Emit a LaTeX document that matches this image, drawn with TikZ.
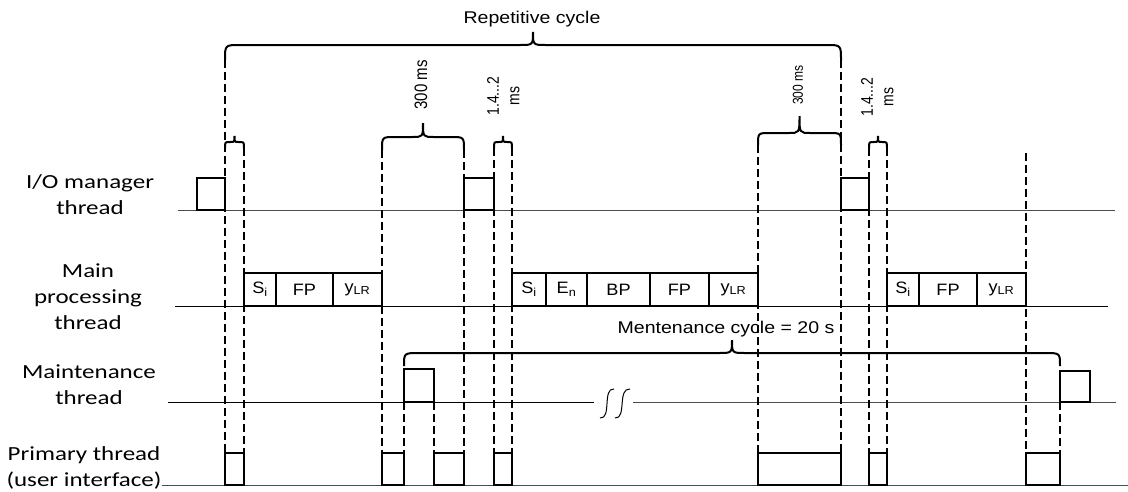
\documentclass[tikz,border=0pt]{standalone}
\usepackage{fontspec}
\setmainfont{Carlito}
\newfontfamily\arial{Liberation Sans}
\newcommand\hx[2][1.1]{\scalebox{#1}[1]{#2}}
\newcommand\vx[2][1.2]{\scalebox{1}[#1]{#2}}
\newcommand\stk[1]{\begin{tabular}{@{}c@{}}#1\end{tabular}}
\tikzset{
  thr/.style={line width=1pt, black!70},
  thrb/.style={line width=1pt, black},
  seg/.style={draw, line width=2pt, inner sep=0pt, outer sep=0pt, anchor=south west,
              font=\arial\fontsize{16.5}{18}\selectfont},
  dsh/.style={line width=2.1pt, dash pattern=on 8pt off 4pt},
  brc/.style={line width=2pt},
  lab/.style={font=\fontsize{20}{26}\selectfont, align=center, inner sep=0pt},
  alab/.style={font=\arial\fontsize{17}{20}\selectfont, inner sep=0pt},
  rlab/.style={rotate=90, inner sep=0pt, align=center},
}
% box node: name, x1, x2, ytop, ybottom, text
\newcommand\seg[6]{\node[seg, minimum width={(#3-#2)*1pt}, minimum height={(#5-#4)*1pt}] (#1) at (#2,#5) {#6};}
% curly brace: x1, x2, yend, yhoriz, ytip, corner r, mid r
\newcommand\curly[7]{%
  \draw[brc] (#1,#3) .. controls (#1,#4) .. (#1+#6,#4) -- ({(#1+#2)/2-#7},#4)
    .. controls ({(#1+#2)/2},#4) .. ({(#1+#2)/2},#5)
    .. controls ({(#1+#2)/2},#4) .. ({(#1+#2)/2+#7},#4) -- (#2-#6,#4)
    .. controls (#2,#4) .. (#2,#3);}
\begin{document}
\begin{tikzpicture}[x=1pt,y=-1pt]
\useasboundingbox (0,0) rectangle (1128,491);

% thread labels
\node[lab] (lio) at (90,196) {\hx[1.25]{\stk{I/O manager\\thread}}};
\node[lab] (lmain) at (88,298) {\hx[1.25]{\stk{Main\\processing\\thread}}};
\node[lab] (lmaint) at (89,386) {\hx[1.25]{\stk{Maintenance\\thread}}};
\node[lab] (lprim) at (84,468) {\hx[1.25]{\stk{Primary thread\\(user interface)}}};

% thread base lines
\draw[thr] (178,210) -- (1115,210);
\draw[thrb] (175,306) -- (1108,306);
\draw[thrb] (168,402) -- (594,402);
\draw[thr] (633,402) -- (1116,402);
\draw[thr] (lprim.east |- 0,485) -- (1128,485);
% break mark
\draw[line width=1pt] (600,418) .. controls (612,419) and (602,388) .. (614,389);
\draw[line width=1pt] (615,418) .. controls (627,419) and (617,388) .. (630,389);

% I/O manager boxes
\seg{io1}{197}{225}{178}{210}{}
\seg{io2}{464}{494}{178}{210}{}
\seg{io3}{841}{869}{178}{210}{}

% main processing boxes
\seg{ma1}{244}{276}{273}{306}{\hx{S\textsubscript{i}}}
\seg{ma2}{276}{333}{273}{306}{\hx{FP}}
\seg{ma3}{333}{382}{273}{306}{\hx{y\textsubscript{LR}}}
\seg{mb1}{512}{546}{273}{306}{\hx{S\textsubscript{i}}}
\seg{mb2}{546}{587}{273}{306}{\hx{E\textsubscript{n}}}
\seg{mb3}{587}{650}{273}{306}{\hx{BP}}
\seg{mb4}{650}{709}{273}{306}{\hx{FP}}
\seg{mb5}{709}{758}{273}{306}{\hx{y\textsubscript{LR}}}
\seg{mc1}{887}{919}{273}{306}{\hx{S\textsubscript{i}}}
\seg{mc2}{919}{977}{273}{306}{\hx{FP}}
\seg{mc3}{977}{1026}{273}{306}{\hx{y\textsubscript{LR}}}

% maintenance boxes
\seg{mt1}{404}{434}{369}{402}{}
\seg{mt2}{1060}{1090}{371}{402}{}

% primary thread boxes
\seg{p1}{225}{244}{453}{485}{}
\seg{p2}{382}{404}{453}{485}{}
\seg{p3}{434}{464}{453}{485}{}
\seg{p4}{494}{512}{453}{485}{}
\seg{p5}{758}{841}{453}{485}{}
\seg{p6}{869}{887}{453}{485}{}
\seg{p7}{1026}{1060}{453}{485}{}

% braces
\curly{225}{841}{60}{45}{32}{15}{13}
\curly{225}{244}{148}{142}{136}{5}{4}
\curly{382}{464}{150}{137}{123}{13}{11}
\curly{494}{512}{148}{142}{136}{5}{4}
\curly{758}{841}{145}{133}{116}{12}{11}
\curly{869}{887}{148}{142}{136}{5}{4}
\curly{404}{1060}{366}{353}{340}{15}{13}

% brace end coordinates
\coordinate (rcL) at (225,60);
\coordinate (rcR) at (841,60);
\coordinate (s1R) at (244,148);
\coordinate (b1L) at (382,150);
\coordinate (b1R) at (464,150);
\coordinate (s2L) at (494,148);
\coordinate (s2R) at (512,148);
\coordinate (b2L) at (758,145);
\coordinate (s3L) at (869,148);
\coordinate (s3R) at (887,148);
\coordinate (fr) at (1026,153);

% dashed connectors
\draw[dsh] (rcL) -- (p1.north west);
\draw[dsh] (s1R) -- (p1.north east);
\draw[dsh] (b1L) -- (p2.north west);
\draw[dsh] (mt1.south west) -- (p2.north east);
\draw[dsh] (mt1.south east) -- (p3.north west);
\draw[dsh] (b1R) -- (p3.north east);
\draw[dsh] (s2L) -- (p4.north west);
\draw[dsh] (s2R) -- (p4.north east);
\draw[dsh] (b2L) -- (p5.north west);
\draw[dsh] (rcR) -- (p5.north east);
\draw[dsh] (s3L) -- (p6.north west);
\draw[dsh] (s3R) -- (p6.north east);
\draw[dsh] (fr) -- (p7.north west);
\draw[dsh] (mt2.south west) -- (p7.north east);

% labels
\node[alab, anchor=base] (rep) at (532,23) {\hx[1.15]{Repetitive cycle}};
\node[alab, anchor=base] (men) at (726,333) {\hx[1.15]{Mentenance cycle = 20 s}};
\node[rlab, font=\arial\fontsize{15}{17}\selectfont] (t3a) at (421,85) {\vx{300 ms}};
\node[rlab, font=\arial\fontsize{12}{14}\selectfont] (t3b) at (798,85) {\vx{300 ms}};
\node[rlab, font=\arial\fontsize{14}{17}\selectfont] (t1a) at (505,96) {\vx{\stk{1.4...2\\ms}}};
\node[rlab, font=\arial\fontsize{14}{17}\selectfont] (t1b) at (879,97) {\vx{\stk{1.4...2\\ms}}};
\end{tikzpicture}
\end{document}
